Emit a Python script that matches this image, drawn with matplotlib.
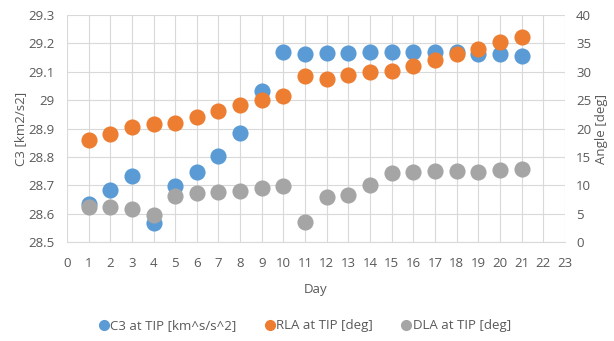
import matplotlib
matplotlib.use("Agg")
import matplotlib.pyplot as plt
from matplotlib.lines import Line2D

days = list(range(1, 22))
c3 = [28.635, 28.684, 28.734, 28.569, 28.696, 28.746, 28.805, 28.886, 29.033, 29.171,
      29.163, 29.165, 29.166, 29.168, 29.170, 29.170, 29.170, 29.168, 29.164, 29.162, 29.157]
rla = [17.9, 19.0, 20.3, 20.8, 21.0, 22.1, 23.1, 24.1, 25.0, 25.8,
       29.3, 28.7, 29.5, 29.9, 30.1, 31.0, 32.1, 33.1, 34.1, 35.2, 36.2]
dla = [6.1, 6.2, 5.75, 4.75, 8.1, 8.6, 8.9, 9.05, 9.45, 9.85,
       3.6, 8.0, 8.3, 10.05, 12.2, 12.4, 12.6, 12.6, 12.3, 12.7, 12.9]
labels = ["C3 at TIP [km^s/s^2]", "RLA at TIP [deg]", "DLA at TIP [deg]"]
colors = ["#5B9BD5", "#ED7D31", "#A5A5A5"]

plt.rcParams['font.family'] = ['Open Sans', 'DejaVu Sans']
tc = "#595959"
gc = "#D9D9D9"
fs = 9.5

fig = plt.figure(figsize=(6.14, 3.41), dpi=100)
ax = fig.add_axes([0.109, 0.290, 0.811, 0.666])
ax2 = ax.twinx()

ms = 135
ax.scatter(days, c3, s=ms, color=colors[0], zorder=3, linewidths=0)
ax2.scatter(days, rla, s=ms, color=colors[1], zorder=3, linewidths=0)
ax2.scatter(days, dla, s=ms, color=colors[2], zorder=3, linewidths=0)

ax.set_xlim(0, 23)
ax.set_ylim(28.5, 29.3)
ax2.set_ylim(0, 40)
ax.set_xticks(range(0, 24))
ax.set_yticks([28.5, 28.6, 28.7, 28.8, 28.9, 29.0, 29.1, 29.2, 29.3])
ax.set_yticklabels(["28.5", "28.6", "28.7", "28.8", "28.9", "29", "29.1", "29.2", "29.3"])
ax2.set_yticks(range(0, 41, 5))

ax.grid(True, color=gc, linewidth=0.8)
ax.set_axisbelow(True)
for a in (ax, ax2):
    for s in a.spines.values():
        s.set_visible(False)
    a.tick_params(length=0, labelsize=fs, colors=tc)
ax.tick_params(axis='x', pad=11)
ax.tick_params(axis='y', pad=9)
ax2.tick_params(axis='y', pad=8)
ax.spines['bottom'].set_visible(True)
ax.spines['bottom'].set_color(gc)

ax.set_xlabel("Day", fontsize=fs, color=tc, labelpad=9)
ax.set_ylabel("C3 [km2/s2]", fontsize=fs, color=tc, labelpad=1)
ax2.set_ylabel("Angle [deg]", fontsize=fs, color=tc, labelpad=3)

handles = [Line2D([], [], marker='o', linestyle='', markersize=7, color=c) for c in colors]
fig.legend(handles, labels, loc='center', bbox_to_anchor=(0.495, 0.044), ncol=3,
           frameon=False, fontsize=fs, labelcolor=tc, handletextpad=0.0,
           columnspacing=2.0, handlelength=1.0)

fig.savefig("out.png", dpi=100)
